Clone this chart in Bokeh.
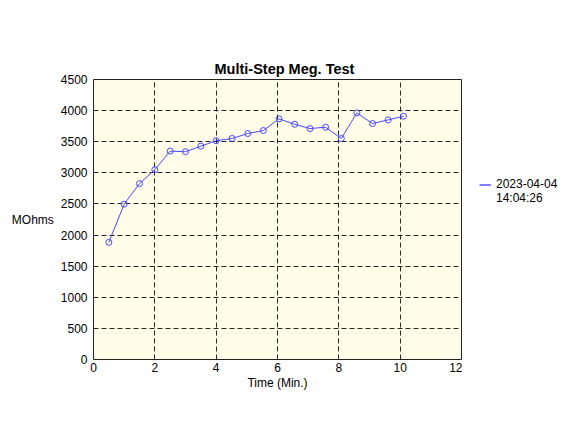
from bokeh.plotting import figure
from bokeh.layouts import row
from bokeh.models import Range1d, Legend, LegendItem, FixedTicker
from bokeh.embed import file_html
from bokeh.resources import INLINE

# data (minutes, MOhms)
times = [0.5, 1.0, 1.5, 2.0, 2.5, 3.0, 3.5, 4.0, 4.52, 5.03,
         5.54, 6.05, 6.56, 7.06, 7.57, 8.08, 8.59, 9.1, 9.61, 10.11]
mohms = [1883, 2496, 2827, 3051, 3349, 3339, 3429, 3515, 3552, 3632,
         3680, 3867, 3781, 3712, 3733, 3552, 3963, 3792, 3851, 3909]
legend_date = "2023-04-04"
legend_time = "14:04:26"
x_ticks = [0, 2, 4, 6, 8, 10, 12]
y_ticks = [0, 500, 1000, 1500, 2000, 2500, 3000, 3500, 4000, 4500]

FONT = "Liberation Sans"
LINE_COLOR = "#4848ff"

p = figure(width=462, height=415, output_backend="svg", toolbar_location=None,
           x_range=Range1d(0, 12), y_range=Range1d(0, 4500),
           min_border_left=93, min_border_right=1,
           min_border_top=79, min_border_bottom=56)

p.background_fill_color = "#FFFDE8"
p.border_fill_color = "white"
p.outline_line_color = "#222222"
p.outline_line_width = 1

p.title.text = "Multi-Step Meg. Test"
p.title.text_font = FONT
p.title.text_font_size = "14.5px"
p.title.text_font_style = "bold"
p.title.align = "left"
p.title.offset = 121
p.title.standoff = 6
p.title.text_color = "black"

for ax in (p.xaxis[0], p.yaxis[0]):
    ax.axis_line_color = None
    ax.major_tick_line_color = None
    ax.minor_tick_line_color = None
    ax.major_tick_out = 0
    ax.major_tick_in = 0
    ax.minor_tick_out = 0
    ax.minor_tick_in = 0
    ax.major_label_text_font = FONT
    ax.major_label_text_font_size = "12px"
    ax.major_label_text_color = "black"
    ax.axis_label_text_font = FONT
    ax.axis_label_text_font_size = "12px"
    ax.axis_label_text_font_style = "normal"
    ax.axis_label_text_color = "black"

p.xaxis.ticker = FixedTicker(ticks=x_ticks)
p.yaxis.ticker = FixedTicker(ticks=y_ticks)
p.xaxis.axis_label = "Time (Min.)"
p.xaxis.major_label_standoff = 3
p.xaxis.axis_label_standoff = 1
p.yaxis.axis_label = "MOhms"
p.yaxis.axis_label_orientation = "horizontal"
p.yaxis.major_label_standoff = 6
p.yaxis.axis_label_standoff = 4

p.grid.grid_line_color = "black"
p.grid.grid_line_dash = "5 3"
p.grid.grid_line_width = 1
p.grid.grid_line_alpha = 0.85
p.xgrid.ticker = FixedTicker(ticks=x_ticks[1:-1])
p.ygrid.ticker = FixedTicker(ticks=y_ticks[1:-1])

p.line(times, mohms, line_color=LINE_COLOR, line_width=1)
p.scatter(times, mohms, marker="circle", size=6, fill_color=None,
          line_color=LINE_COLOR, line_width=1)

# legend area as its own small figure to the right of the chart
q = figure(width=97, height=415, output_backend="svg", toolbar_location=None,
           x_range=Range1d(0, 1), y_range=Range1d(0, 1), min_border=0)
q.axis.visible = False
q.grid.visible = False
q.outline_line_color = None
q.background_fill_color = "white"
q.border_fill_color = "white"
# off-range proxies, only used to draw the legend swatches
legend_line = q.line([-2, -1], [-2, -1], line_color="blue", line_width=1)
blank_line = q.line([-2, -1], [-2, -1], line_color="blue", line_alpha=0)
legend = Legend(items=[LegendItem(label=legend_date, renderers=[legend_line]),
                       LegendItem(label=legend_time, renderers=[blank_line])],
                location=(17, 154), orientation="vertical",
                border_line_color=None, background_fill_alpha=0,
                padding=0, margin=0, spacing=0,
                glyph_width=12, glyph_height=13, label_standoff=5,
                label_text_font=FONT, label_text_font_size="12px",
                label_text_color="black",
                label_height=13)
q.add_layout(legend)

layout = row(p, q)
open("out.html", "w").write(file_html(layout, INLINE))
